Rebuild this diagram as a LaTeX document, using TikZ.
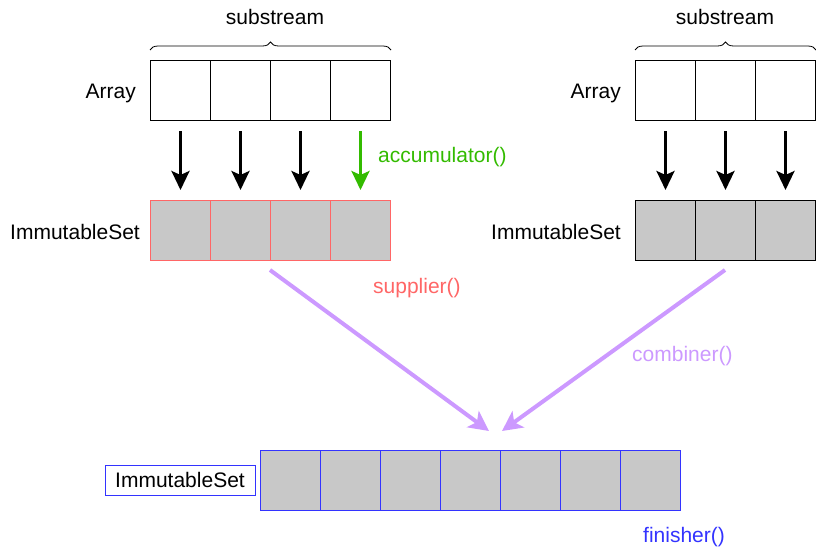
\documentclass[tikz,border=0pt]{standalone}
\usepackage{fontspec}
\setmainfont{Liberation Sans}
\usetikzlibrary{arrows.meta,decorations.pathreplacing}
\definecolor{cellgray}{HTML}{C8C8C8}
\definecolor{redb}{HTML}{FF6666}
\definecolor{blueb}{HTML}{3333FF}
\definecolor{greenc}{HTML}{33BB00}
\definecolor{purp}{HTML}{CC99FF}
\tikzset{
  cell/.style={draw, minimum width=60pt, minimum height=60pt, inner sep=0pt, line width=1pt, anchor=north west},
  gcell/.style={cell, fill=cellgray},
  lbl/.style={font=\fontsize{21}{25}\selectfont, inner sep=0pt},
  darr/.style={line width=3pt, -{Stealth[length=19pt,width=18pt,inset=4pt]}},
  parr/.style={line width=4pt, draw=purp, -{Stealth[length=20pt,width=20pt,inset=5pt]}},
  brc/.style={decorate, decoration={brace, amplitude=8pt}, line width=0.8pt}
}
\begin{document}
\begin{tikzpicture}[x=1pt,y=-1pt]
\useasboundingbox (0,0) rectangle (816,551);
% top-left array
\foreach \i in {0,...,3} {
  \node[cell] (a\i) at ({150+60*\i},60) {};
  \node[gcell, draw=redb] (s\i) at ({150+60*\i},200) {};
}
\foreach \i in {0,...,2} {
  \node[cell] (b\i) at ({635+60*\i},60) {};
  \node[gcell] (t\i) at ({635+60*\i},200) {};
}
\foreach \i in {0,...,6} {
  \node[gcell, draw=blueb] (f\i) at ({260+60*\i},450) {};
}
% braces
\draw[brc] ([yshift=10pt]a0.north west) -- ([yshift=10pt]a3.north east);
\draw[brc] ([yshift=10pt]b0.north west) -- ([yshift=10pt]b2.north east);
\node[lbl] (sub1) at (275,17) {substream};
\node[lbl] (sub2) at (725,17) {substream};
% labels
\node[lbl, anchor=east] (arr1) at (136,93) {Array};
\node[lbl, anchor=east] (arr2) at (621,93) {Array};
\node[lbl, anchor=east] (im1) at (140,232) {ImmutableSet};
\node[lbl, anchor=east] (im2) at (621,232) {ImmutableSet};
\node[lbl, draw=blueb, line width=1pt, minimum width=150pt, minimum height=30pt] (im3) at (180,480) {ImmutableSet};
\node[lbl, text=greenc, anchor=west] (acc) at (378,157) {accumulator()};
\node[lbl, text=redb, anchor=west] (sup) at (373,288) {supplier()};
\node[lbl, text=purp, anchor=west] (comb) at (632,356) {combiner()};
\node[lbl, text=blueb, anchor=west] (fin) at (643,537) {finisher()};
% arrows
\foreach \i in {0,1,2} {
  \draw[darr] ([yshift=-10pt]a\i.south) -- ([yshift=10pt]s\i.north);
}
\draw[darr, draw=greenc] ([yshift=-10pt]a3.south) -- ([yshift=10pt]s3.north);
\foreach \i in {0,1,2} {
  \draw[darr] ([yshift=-10pt]b\i.south) -- ([yshift=10pt]t\i.north);
}
\coordinate (m1) at (270,270);
\coordinate (m2) at (725,270);
\coordinate (e1) at (489,431);
\coordinate (e2) at (502,431);
\draw[parr] (m1) -- (e1);
\draw[parr] (m2) -- (e2);
\end{tikzpicture}
\end{document}
